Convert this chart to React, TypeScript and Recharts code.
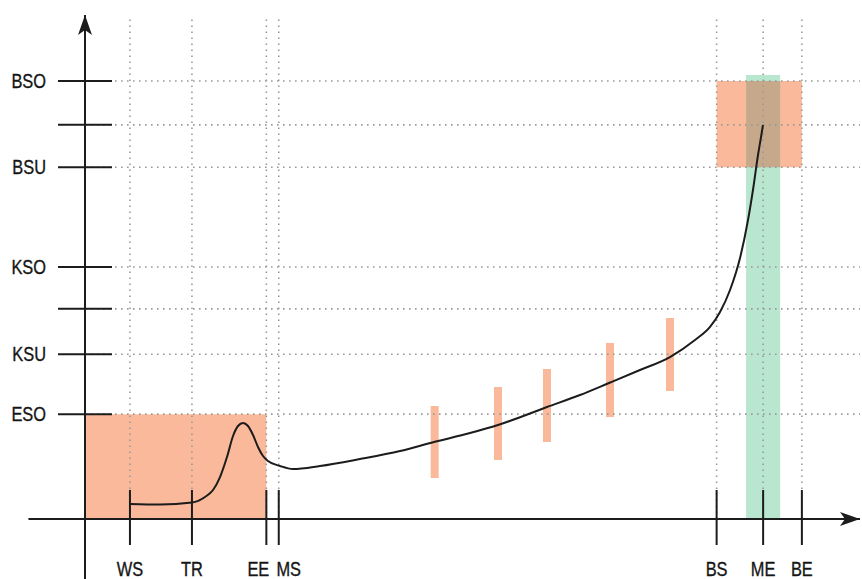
import {
  Bar,
  ComposedChart,
  Line,
  ReferenceArea,
  ReferenceLine,
  XAxis,
  YAxis,
} from 'recharts';

// x ticks along the time axis
const xTickValues = [5.8, 13.8, 23.4, 25.0, 81.5, 87.5, 92.5];
const xTickLabels = ['WS', 'TR', 'EE', 'MS', 'BS', 'ME', 'BE'];

// y ticks (two unlabeled)
const yTickValues = [20.8, 32.7, 41.7, 50, 69.8, 78.2, 86.9];
const yTickLabels = ['ESO', 'KSU', '', 'KSO', 'BSU', '', 'BSO'];

// the black curve
const curveX = [
  5.81, 9.68, 13.81, 15.48, 16.52, 17.42, 18.32, 19.1, 19.74, 20.39, 21.03,
  21.68, 22.32, 22.97, 23.61, 25.16, 26.84, 30.32, 35.48, 40.65, 45.03, 49.68,
  53.29, 59.61, 63.87, 67.61, 71.61, 75.48, 78.71, 80.65, 81.94, 83.23, 84.52,
  85.55, 86.19, 86.84, 87.23, 87.48,
];
const curveY = [
  2.98, 2.88, 3.27, 4.37, 5.75, 8.33, 12.3, 16.47, 18.45, 19.05, 18.45, 16.67,
  14.29, 12.5, 11.51, 10.52, 9.92, 10.52, 11.9, 13.49, 15.28, 17.06, 18.65,
  22.22, 24.6, 26.98, 29.56, 32.14, 35.52, 38.1, 41.07, 45.44, 51.79, 59.33,
  65.28, 72.22, 75.79, 78.17,
];

// orange range bars
const barX = [45.12, 53.29, 59.61, 67.74, 75.48];
const barLow = [8.13, 11.71, 15.28, 20.24, 25.4];
const barHigh = [22.42, 26.19, 29.76, 34.92, 39.88];

// shaded areas [x1, x2, y1, y2]
const startBox = [0, 23.4, 0, 20.8];
const endBox = [81.5, 92.5, 69.8, 86.9];
const greenBand = [85.3, 89.7, 0, 88.1];

const curveData = curveX.map((x, i) => ({ x, y: curveY[i] }));
const barData = barX.map((x, i) => ({ x, range: [barLow[i], barHigh[i]] }));

const overlap = [
  Math.max(endBox[0], greenBand[0]),
  Math.min(endBox[1], greenBand[1]),
  Math.max(endBox[2], greenBand[2]),
  Math.min(endBox[3], greenBand[3]),
];

const ink = '#1c1c1c';
const orange = '#f9b99a';
const font = '"Liberation Sans", Arial, sans-serif';
// EE and MS sit close together, so their labels are pushed apart
const labelShift: Record<string, number> = { EE: -8, MS: 10 };

// narrow-looking label: regular sans squeezed horizontally
const Label = ({ x, y, anchor, children }: any) => (
  <text
    transform={`translate(${x},${y}) scale(0.82,1)`}
    textAnchor={anchor}
    fontFamily={font}
    fontSize={20}
    fill='#151515'
    stroke='#151515'
    strokeWidth={0.35}
  >
    {children}
  </text>
);

const XTick = (props: any) => {
  const { x, y, payload } = props;
  const label = xTickLabels[payload.index];
  return (
    <g>
      <line x1={x} x2={x} y1={y - 29} y2={y + 26} stroke={ink} strokeWidth={2} />
      <Label x={x + (labelShift[label] || 0)} y={y + 57} anchor='middle'>
        {label}
      </Label>
    </g>
  );
};

const YTick = (props: any) => {
  const { x, y, payload } = props;
  return (
    <g>
      <line x1={x - 27} x2={x + 27} y1={y} y2={y} stroke={ink} strokeWidth={2} />
      <Label x={x - 39} y={y + 7} anchor='end'>
        {yTickLabels[payload.index]}
      </Label>
    </g>
  );
};

const RangeBar = (props: any) => {
  const { x, y, width, height } = props;
  return <rect x={x + width / 2 - 4} y={y} width={8} height={height} fill={orange} />;
};

const dotted = { stroke: '#9a9a9a', strokeWidth: 1.6, strokeDasharray: '1.6 4.4' };

export default function App() {
  return (
    <div style={{ position: 'absolute', left: 0, top: 0, background: '#fff' }}>
      <ComposedChart
        width={862}
        height={579}
        data={barData}
        margin={{ top: 15, right: 2, left: 0, bottom: 0 }}
      >
        <defs>
          <marker
            id='arrow'
            viewBox='0 0 20 14'
            markerWidth={20}
            markerHeight={14}
            refX={20}
            refY={7}
            orient='auto'
            markerUnits='userSpaceOnUse'
          >
            <path d='M0,0 L20,7 L0,14 L5,7 Z' fill={ink} />
          </marker>
        </defs>
        <XAxis
          dataKey='x'
          type='number'
          domain={[0, 100]}
          allowDataOverflow
          ticks={xTickValues}
          interval={0}
          tick={<XTick />}
          tickLine={false}
          axisLine={false}
          tickSize={0}
          tickMargin={0}
          height={60}
        />
        <YAxis
          type='number'
          domain={[0, 100]}
          allowDataOverflow
          ticks={yTickValues}
          interval={0}
          tick={<YTick />}
          tickLine={false}
          axisLine={false}
          tickSize={0}
          tickMargin={0}
          width={85}
        />
        <ReferenceArea
          x1={startBox[0]}
          x2={startBox[1]}
          y1={startBox[2]}
          y2={startBox[3]}
          fill={orange}
          fillOpacity={1}
          stroke='none'
        />
        <ReferenceArea
          x1={endBox[0]}
          x2={endBox[1]}
          y1={endBox[2]}
          y2={endBox[3]}
          fill={orange}
          fillOpacity={1}
          stroke='none'
        />
        <ReferenceArea
          x1={greenBand[0]}
          x2={greenBand[1]}
          y1={greenBand[2]}
          y2={greenBand[3]}
          fill='#b8e6cf'
          fillOpacity={1}
          stroke='none'
        />
        <ReferenceArea
          x1={overlap[0]}
          x2={overlap[1]}
          y1={overlap[2]}
          y2={overlap[3]}
          fill='#c6a98a'
          fillOpacity={1}
          stroke='none'
        />
        {yTickValues.map((v) => (
          <ReferenceLine key={'h' + v} y={v} {...dotted} />
        ))}
        {xTickValues.map((v) => (
          <ReferenceLine key={'v' + v} x={v} {...dotted} />
        ))}
        <Bar
          dataKey='range'
          fill={orange}
          shape={<RangeBar />}
          isAnimationActive={false}
        />
        <Line
          data={curveData}
          dataKey='y'
          type='monotone'
          stroke={ink}
          strokeWidth={2}
          dot={false}
          isAnimationActive={false}
        />
        <ReferenceLine
          segment={[
            { x: -7.3, y: 0 },
            { x: 100, y: 0 },
          ]}
          stroke={ink}
          strokeWidth={2}
          ifOverflow='visible'
          markerEnd='url(#arrow)'
        />
        <ReferenceLine
          segment={[
            { x: 0, y: -12 },
            { x: 0, y: 100 },
          ]}
          stroke={ink}
          strokeWidth={2}
          ifOverflow='visible'
          markerEnd='url(#arrow)'
        />
      </ComposedChart>
    </div>
  );
}
